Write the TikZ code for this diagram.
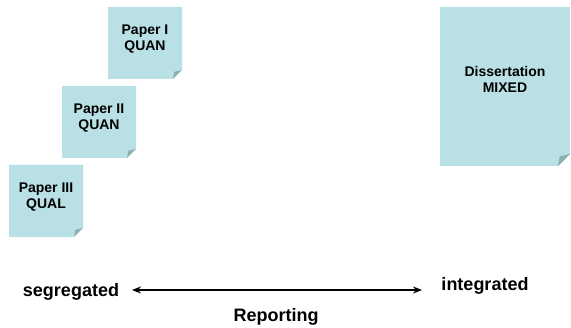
\documentclass[tikz,border=0pt]{standalone}
\usepackage{fontspec}
\setmainfont{Liberation Sans}
\usetikzlibrary{arrows.meta}
\definecolor{notecol}{RGB}{185,224,228}
\definecolor{foldcol}{RGB}{142,175,178}
\newcommand\foldnote[2]{%
  \fill[notecol] (#1.north west) -- (#1.north east) -- ([yshift=#2]#1.south east)
    -- ([xshift=-#2]#1.south east) -- (#1.south west) -- cycle;
  \fill[foldcol] ([yshift=#2]#1.south east)
    .. controls ([xshift=-0.45*#2,yshift=0.97*#2]#1.south east) .. ([xshift=-0.85*#2,yshift=0.8*#2]#1.south east)
    .. controls ([xshift=-0.92*#2,yshift=0.4*#2]#1.south east) .. ([xshift=-#2]#1.south east) -- cycle;
}
\begin{document}
\begin{tikzpicture}[x=1pt,y=-1pt,
  notebox/.style={inner sep=0pt, outer sep=0pt},
  notetext/.style={align=center, font=\fontsize{14}{15.5}\selectfont\bfseries, inner sep=0pt},
  endtext/.style={font=\fontsize{18}{21}\selectfont\bfseries, inner sep=0pt, anchor=base},
  arr/.style={{Stealth[length=9pt,width=7pt]}-{Stealth[length=9pt,width=7pt]}, line width=2pt}]
\useasboundingbox (0,0) rectangle (571,328);
% Paper I
\node[notebox, minimum width=74pt, minimum height=72pt] (p1) at (145,43) {};
\foldnote{p1}{9pt}
\node[notetext] (p1t) at ([yshift=4pt]p1.center) {Paper I\\QUAN};
% Paper II
\node[notebox, minimum width=74pt, minimum height=72pt] (p2) at (99,122) {};
\foldnote{p2}{9pt}
\node[notetext] (p2t) at ([yshift=4pt]p2.center) {Paper II\\QUAN};
% Paper III
\node[notebox, minimum width=74pt, minimum height=72pt] (p3) at (46,201) {};
\foldnote{p3}{9pt}
\node[notetext] (p3t) at ([yshift=4pt]p3.center) {Paper III\\QUAL};
% Dissertation
\node[notebox, minimum width=130pt, minimum height=159pt] (d) at (505,86.5) {};
\foldnote{d}{12pt}
\node[notetext] (dt) at ([yshift=7pt]d.center) {Dissertation\\MIXED};
% bottom
\node[endtext] (seg) at (71,297) {segregated};
\node[endtext] (int) at (485,291) {integrated};
\node[endtext] (rep) at (276,322) {Reporting};
\coordinate (al) at (132,290);
\coordinate (ar) at (422,290);
\draw[arr] (al) -- (ar);
\end{tikzpicture}
\end{document}
